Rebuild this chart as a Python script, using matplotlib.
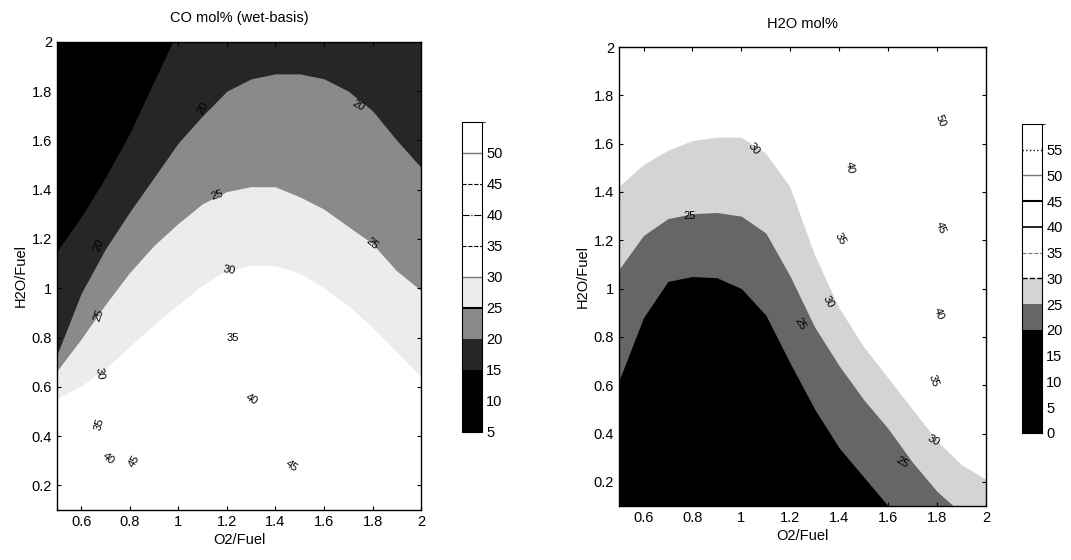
import numpy as np
import matplotlib.pyplot as plt
from matplotlib.colors import ListedColormap, BoundaryNorm
from matplotlib.cm import ScalarMappable

plt.rcParams['font.family'] = ['Liberation Sans', 'DejaVu Sans']

# O2/Fuel sample positions used for all the contour boundaries
o2_fuel = [0.5, 0.6, 0.7, 0.8, 0.9, 1.0, 1.1, 1.2, 1.3, 1.4, 1.5, 1.6, 1.7, 1.8, 1.9, 2.0]

# CO mol% (wet-basis): H2O/Fuel where each level is crossed
co_15 = [1.15, 1.29, 1.45, 1.63, 1.84, 2.05, 2.2, 2.2, 2.2, 2.2, 2.2, 2.2, 2.2, 2.2, 2.2, 2.2]
co_20 = [0.73, 0.98, 1.16, 1.31, 1.45, 1.59, 1.70, 1.80, 1.85, 1.87, 1.87, 1.85, 1.80, 1.72, 1.60, 1.49]
co_25 = [0.66, 0.79, 0.93, 1.06, 1.17, 1.26, 1.34, 1.39, 1.41, 1.41, 1.37, 1.32, 1.25, 1.18, 1.07, 0.99]
co_30 = [0.55, 0.60, 0.67, 0.76, 0.85, 0.93, 1.01, 1.07, 1.09, 1.09, 1.06, 1.00, 0.93, 0.84, 0.74, 0.64]

co_label_x = [1.10, 1.74, 1.16, 1.80, 0.674, 0.674, 0.674, 0.674, 0.71, 0.82, 1.21, 1.225, 1.30, 1.467]
co_label_y = [1.73, 1.74, 1.38, 1.18, 1.175, 0.89, 0.655, 0.45, 0.31, 0.30, 1.074, 0.80, 0.55, 0.28]
co_label_txt = ['20', '20', '25', '25', '20', '25', '30', '35', '40', '45', '30', '35', '40', '45']
co_label_rot = [60, -30, 20, -40, 70, 70, -80, 75, -40, 60, -10, 0, -30, -35]

# H2O mol%
h2o_20 = [0.62, 0.88, 1.03, 1.05, 1.045, 1.00, 0.89, 0.69, 0.50, 0.34, 0.22, 0.10, -0.1, -0.2, -0.3, -0.4]
h2o_25 = [1.08, 1.22, 1.29, 1.31, 1.315, 1.30, 1.23, 1.05, 0.84, 0.68, 0.54, 0.42, 0.28, 0.16, 0.07, -0.1]
h2o_30 = [1.42, 1.51, 1.57, 1.61, 1.625, 1.625, 1.56, 1.42, 1.14, 0.92, 0.76, 0.63, 0.50, 0.37, 0.27, 0.21]

h2o_label_x = [0.79, 1.05, 1.24, 1.357, 1.404, 1.445, 1.813, 1.813, 1.805, 1.786, 1.785, 1.657]
h2o_label_y = [1.30, 1.58, 0.855, 0.945, 1.207, 1.503, 1.697, 1.25, 0.897, 0.62, 0.372, 0.282]
h2o_label_txt = ['25', '30', '25', '30', '35', '40', '50', '45', '40', '35', '30', '25']
h2o_label_rot = [0, -50, -60, -60, -60, -80, -70, -70, -70, -70, -30, -30]

co_levels = [5, 10, 15, 20, 25, 30, 35, 40, 45, 50, 55]
co_colors = ['#000000', '#000000', '#262626', '#8a8a8a', '#ececec', 'white', 'white', 'white', 'white', 'white']
h2o_levels = [0, 5, 10, 15, 20, 25, 30, 35, 40, 45, 50, 55, 60]
h2o_colors = ['#000000'] * 4 + ['#666666', '#d4d4d4'] + ['white'] * 6

fig = plt.figure(figsize=(10.71, 5.6), dpi=100)
ax1 = fig.add_axes([0.0532, 0.0893, 0.340, 0.836])
cax1 = fig.add_axes([0.4314, 0.2286, 0.0187, 0.5536])
ax2 = fig.add_axes([0.578, 0.0964, 0.3427, 0.8196])
cax2 = fig.add_axes([0.9542, 0.2268, 0.0187, 0.5518])

# CO: value drops as H2O/Fuel rises, so paint each band upward from its level line
ax1.fill_between(o2_fuel, co_30, 3, color=co_colors[4], lw=0)
ax1.fill_between(o2_fuel, co_25, 3, color=co_colors[3], lw=0)
ax1.fill_between(o2_fuel, co_20, 3, color=co_colors[2], lw=0)
ax1.fill_between(o2_fuel, co_15, 3, color=co_colors[0], lw=0)
for x, y, t, r in zip(co_label_x, co_label_y, co_label_txt, co_label_rot):
    ax1.text(x, y, t, fontsize=8, rotation=r, ha='center', va='center')
ax1.set_title('CO mol% (wet-basis)', fontsize=10.5, pad=14)

# H2O: value rises with H2O/Fuel, paint bands downward
ax2.fill_between(o2_fuel, h2o_30, -1, color=h2o_colors[5], lw=0)
ax2.fill_between(o2_fuel, h2o_25, -1, color=h2o_colors[4], lw=0)
ax2.fill_between(o2_fuel, h2o_20, -1, color=h2o_colors[0], lw=0)
for x, y, t, r in zip(h2o_label_x, h2o_label_y, h2o_label_txt, h2o_label_rot):
    ax2.text(x, y, t, fontsize=8, rotation=r, ha='center', va='center')
ax2.set_title('H2O mol%', fontsize=10.5, pad=14)

for ax in (ax1, ax2):
    ax.set_xlim(0.5, 2.0)
    ax.set_ylim(0.1, 2.0)
    ax.set_xticks([0.6, 0.8, 1, 1.2, 1.4, 1.6, 1.8, 2])
    ax.set_xticklabels(['0.6', '0.8', '1', '1.2', '1.4', '1.6', '1.8', '2'])
    ax.set_yticks([0.2, 0.4, 0.6, 0.8, 1, 1.2, 1.4, 1.6, 1.8, 2])
    ax.set_yticklabels(['0.2', '0.4', '0.6', '0.8', '1', '1.2', '1.4', '1.6', '1.8', '2'])
    ax.tick_params(labelsize=10.5, length=3, width=0.8, top=True, right=True, direction='in')
    ax.set_xlabel('O2/Fuel', fontsize=10.5, labelpad=3)
    ax.set_ylabel('H2O/Fuel', fontsize=10.5, labelpad=3)
    for s in ax.spines.values():
        s.set_linewidth(1.0)

# colour bars
cb1 = fig.colorbar(ScalarMappable(norm=BoundaryNorm(co_levels, len(co_colors)), cmap=ListedColormap(co_colors)),
                   cax=cax1, ticks=co_levels[:-1])
cb2 = fig.colorbar(ScalarMappable(norm=BoundaryNorm(h2o_levels, len(h2o_colors)), cmap=ListedColormap(h2o_colors)),
                   cax=cax2, ticks=h2o_levels[:-1])
for cb in (cb1, cb2):
    cb.ax.tick_params(labelsize=10.5, length=0, pad=3)
    cb.outline.set_linewidth(0.8)
    cb.outline.set_linestyle((0, (2, 1)))

# contour line styles shown in the colour bars
co_line_styles = {25: ('-', 'black', 1.5), 30: ('-', '#777777', 1.0), 35: ('--', 'black', 0.8),
                  40: ('-.', 'black', 0.8), 45: ('--', 'black', 0.8), 50: ('-', '#777777', 1.0)}
for lev, (ls, c, lw) in co_line_styles.items():
    cb1.ax.axhline(lev, ls=ls, color=c, lw=lw)
h2o_line_styles = {30: ('--', 'black', 1.0), 35: ('--', '#777777', 0.8), 40: ('-', 'black', 1.2),
                   45: ('-', 'black', 1.5), 50: ('-', '#777777', 1.0), 55: (':', 'black', 1.0)}
for lev, (ls, c, lw) in h2o_line_styles.items():
    cb2.ax.axhline(lev, ls=ls, color=c, lw=lw)

fig.savefig('out.png', dpi=100)
